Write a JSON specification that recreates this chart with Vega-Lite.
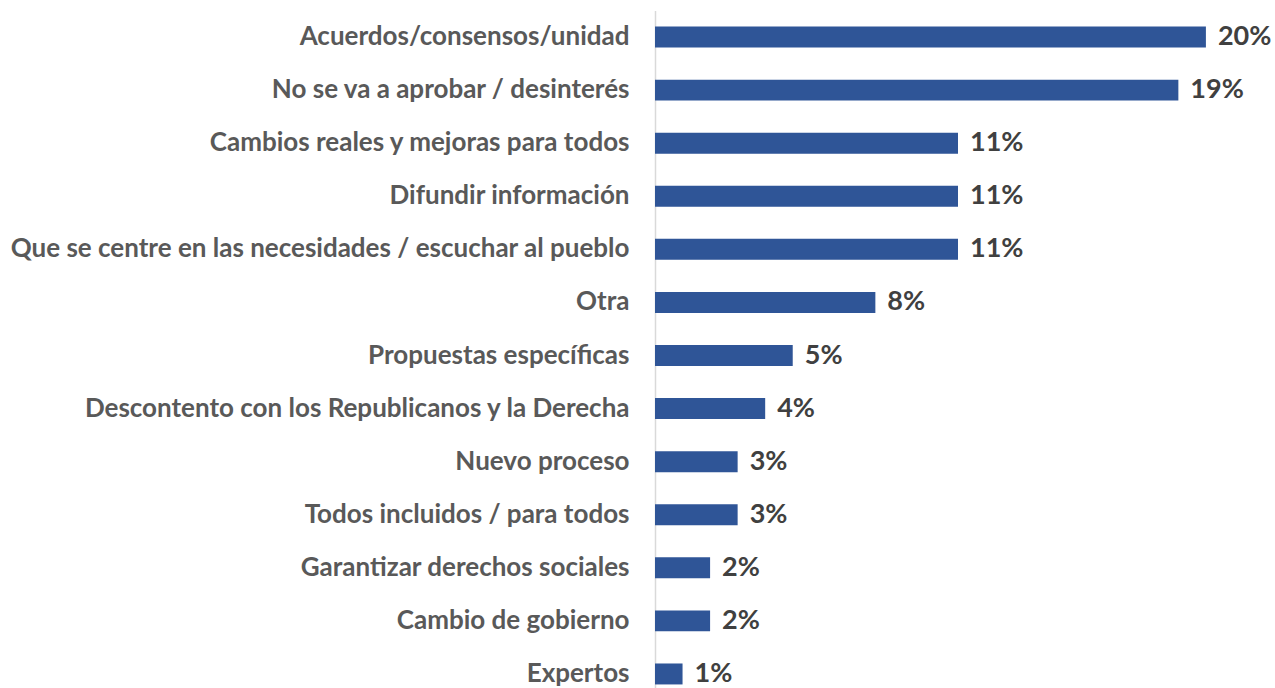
{
  "$schema": "https://vega.github.io/schema/vega-lite/v6.json",
  "autosize": {"type": "none"},
  "padding": {"left": 655, "top": 10.5, "right": 14, "bottom": 0},
  "width": 606,
  "height": 690,
  "background": "white",
  "config": {"view": {"stroke": null}},
  "data": {"values": [
    {"cat": "Acuerdos/consensos/unidad", "v": 0.20},
    {"cat": "No se va a aprobar / desinterés", "v": 0.19},
    {"cat": "Cambios reales y mejoras para todos", "v": 0.11},
    {"cat": "Difundir información", "v": 0.11},
    {"cat": "Que se centre en las necesidades / escuchar al pueblo", "v": 0.11},
    {"cat": "Otra", "v": 0.08},
    {"cat": "Propuestas específicas", "v": 0.05},
    {"cat": "Descontento con los Republicanos y la Derecha", "v": 0.04},
    {"cat": "Nuevo proceso", "v": 0.03},
    {"cat": "Todos incluidos / para todos", "v": 0.03},
    {"cat": "Garantizar derechos sociales", "v": 0.02},
    {"cat": "Cambio de gobierno", "v": 0.02},
    {"cat": "Expertos", "v": 0.01}
  ]},
  "encoding": {
    "y": {"field": "cat", "type": "nominal", "sort": null,
      "scale": {"paddingInner": 0.605, "paddingOuter": 0.3025},
      "axis": {"title": null, "ticks": false, "domainColor": "#d9d9d9", "domainWidth": 1.5,
        "labelFont": "Lato", "labelFontWeight": "bold", "labelFontSize": 26, "labelColor": "#595959",
        "labelPadding": 26, "labelLimit": 700}},
    "x": {"field": "v", "type": "quantitative", "scale": {"domain": [0, 0.22]}, "axis": null}
  },
  "layer": [
    {"mark": {"type": "bar", "color": "#2F5597"}},
    {"mark": {"type": "text", "align": "left", "dx": 12, "font": "Lato", "fontWeight": "bold", "fontSize": 27, "color": "#404040", "baseline": "middle"},
     "encoding": {"text": {"field": "v", "type": "quantitative", "format": ".0%"}}}
  ]
}
